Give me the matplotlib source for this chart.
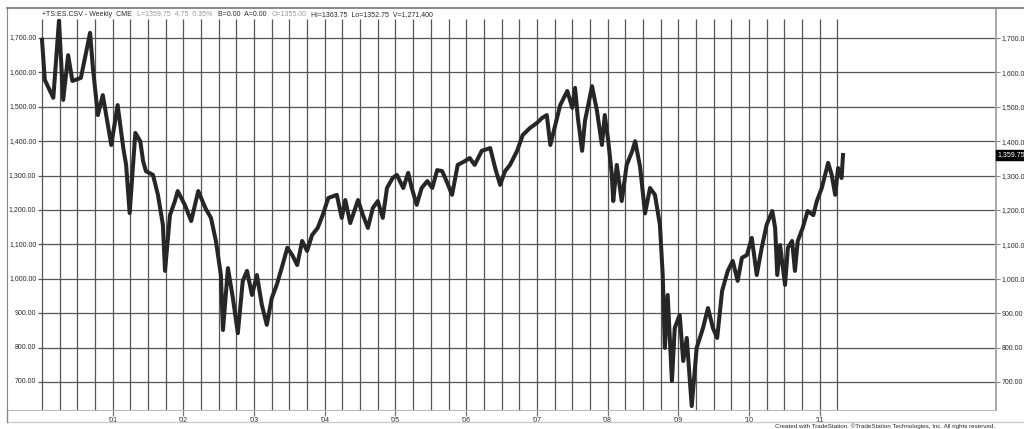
import matplotlib
matplotlib.use("Agg")
import matplotlib.pyplot as plt
from matplotlib.lines import Line2D

plt.rcParams['font.family'] = ['Liberation Sans', 'DejaVu Sans']

_W, _H = 1024, 429
_GRID = '#555555'
_BAR = '#262626'
_TEXT = '#2a2a2a'
_LABEL_SIZE = 5

# weekly ES closes (decimal year, price)
weeks = [
    2000.00, 2000.04, 2000.16, 2000.24, 2000.30, 2000.37, 2000.43, 2000.55,
    2000.68, 2000.72, 2000.79, 2000.86, 2000.98, 2001.07, 2001.15, 2001.19,
    2001.24, 2001.32, 2001.39, 2001.43, 2001.47, 2001.57, 2001.64, 2001.71,
    2001.74, 2001.81, 2001.88, 2001.92, 2002.02, 2002.11, 2002.21, 2002.31,
    2002.39, 2002.46, 2002.53, 2002.56, 2002.63, 2002.70, 2002.77, 2002.84,
    2002.90, 2002.97, 2003.04, 2003.11, 2003.18, 2003.25, 2003.32, 2003.39,
    2003.47, 2003.54, 2003.61, 2003.68, 2003.75, 2003.82, 2003.90, 2003.97,
    2004.05, 2004.17, 2004.24, 2004.29, 2004.36, 2004.47, 2004.54, 2004.61,
    2004.68, 2004.75, 2004.82, 2004.88, 2004.96, 2005.02, 2005.11, 2005.18,
    2005.23, 2005.30, 2005.37, 2005.45, 2005.52, 2005.59, 2005.66, 2005.73,
    2005.80, 2005.88, 2005.98, 2006.05, 2006.12, 2006.22, 2006.34, 2006.41,
    2006.48, 2006.55, 2006.62, 2006.72, 2006.80, 2006.90, 2007.00, 2007.07,
    2007.14, 2007.19, 2007.26, 2007.33, 2007.43, 2007.50, 2007.54, 2007.58,
    2007.64, 2007.68, 2007.78, 2007.85, 2007.92, 2007.96, 2008.01, 2008.06,
    2008.08, 2008.13, 2008.20, 2008.27, 2008.35, 2008.39, 2008.46, 2008.53,
    2008.60, 2008.67, 2008.74, 2008.78, 2008.81, 2008.85, 2008.91, 2008.95,
    2009.02, 2009.07, 2009.12, 2009.19, 2009.26, 2009.35, 2009.42, 2009.49,
    2009.55, 2009.62, 2009.70, 2009.77, 2009.84, 2009.90, 2009.97, 2010.04,
    2010.11, 2010.18, 2010.25, 2010.33, 2010.37, 2010.40, 2010.44, 2010.51,
    2010.55, 2010.61, 2010.65, 2010.69, 2010.76, 2010.83, 2010.91, 2010.96,
    2011.03, 2011.12, 2011.17, 2011.22, 2011.26, 2011.31, 2011.33,
]
closes = [
    1695, 1578, 1526, 1750, 1520, 1650, 1575, 1584,
    1715, 1613, 1476, 1534, 1389, 1505, 1380, 1331,
    1191, 1424, 1400, 1342, 1313, 1302, 1244, 1157,
    1023, 1185, 1226, 1255, 1215, 1168, 1255, 1206,
    1177, 1110, 1011, 851, 1031, 944, 842, 994,
    1023, 953, 1011, 924, 866, 944, 982, 1031,
    1090, 1069, 1040, 1110, 1081, 1127, 1148, 1185,
    1235, 1244, 1177, 1229, 1162, 1229, 1185, 1148,
    1206, 1226, 1177, 1264, 1293, 1302, 1264, 1308,
    1264, 1215, 1264, 1284, 1264, 1316, 1313, 1280,
    1244, 1331, 1342, 1351, 1331, 1372, 1380, 1322,
    1273, 1313, 1331, 1372, 1418, 1438, 1453, 1467,
    1476, 1389, 1447, 1505, 1546, 1497, 1555, 1467,
    1372, 1459, 1560, 1488, 1389, 1476, 1400, 1302,
    1226, 1331, 1226, 1331, 1372, 1400, 1325, 1190,
    1264, 1244, 1157, 1011, 799, 953, 703, 857,
    895, 761, 828, 630, 799, 857, 915, 857,
    828, 965, 1023, 1052, 994, 1061, 1069, 1119,
    1011, 1090, 1157, 1197, 1148, 1011, 1098, 982,
    1090, 1110, 1023, 1110, 1148, 1197, 1185, 1226,
    1264, 1337, 1302, 1244, 1322, 1293, 1360,
]

price_levels = [700, 800, 900, 1000, 1100, 1200, 1300, 1400, 1500, 1600, 1700]
year_ticks = [2001, 2002, 2003, 2004, 2005, 2006, 2007, 2008, 2009, 2010, 2011]
year_labels = ["'01", "'02", "'03", "'04", "'05", "'06", "'07", "'08", "'09", "'10", "'11"]
quarter_lines = [2000 + q * 0.25 for q in range(46)]
last_price = 1359.75

header_parts = [
    (42, "+TS:ES.CSV - Weekly  CME", _TEXT),
    (137, "L=1359.75  4.75  0.35%", '#9a9a9a'),
    (218, "B=0.00  A=0.00", _TEXT),
    (272, "O=1355.00", '#9a9a9a'),
    (311, "Hi=1363.75  Lo=1352.75  V=1,271,400", _TEXT),
]
credit = "Created with TradeStation. \u00a9TradeStation Technologies, Inc. All rights reserved."

X0, X1 = 1999.505, 2013.494
Y0, Y1 = 618.6, 1787.2


def fx(px):
    return px / _W


def fy(py):
    return 1 - py / _H


fig = plt.figure(figsize=(10.24, 4.29), dpi=100, facecolor='white')
ax = fig.add_axes([fx(7), fy(410), 989 / _W, 402 / _H])
ax.set_xlim(X0, X1)
ax.set_ylim(Y0, Y1)

ax.hlines(price_levels, 1999.94, X1, color=_GRID, lw=0.9, zorder=1)
ax.vlines(quarter_lines, Y0, 1755, color=_GRID, lw=0.9, zorder=1)
ax.plot(weeks, closes, color=_BAR, lw=2.9, zorder=3)

for p in price_levels:
    ax.text(1999.92, p, f"{p:,.2f}", ha='right', va='center',
            fontsize=_LABEL_SIZE, color=_TEXT)

ax.yaxis.tick_right()
ax.set_yticks(price_levels)
ax.set_yticklabels([f"{p:,.2f}" for p in price_levels])
ax.tick_params(axis='y', length=3, width=0.8, colors='#888888',
               labelcolor=_TEXT, labelsize=_LABEL_SIZE, pad=1)

ax.set_xticks(year_ticks)
ax.set_xticklabels(year_labels)
ax.tick_params(axis='x', length=4, width=0.9, colors='#777777',
               labelcolor=_TEXT, labelsize=_LABEL_SIZE, pad=1)

ax.spines['left'].set_color('#888888')
ax.spines['right'].set_color('#999999')
ax.spines['right'].set_linewidth(1.2)
ax.spines['top'].set_color('#888888')
ax.spines['top'].set_linewidth(1.4)
ax.spines['bottom'].set_color('#bbbbbb')

ax.text(1.001, last_price, "1,359.75", transform=ax.get_yaxis_transform(),
        ha='left', va='center', fontsize=_LABEL_SIZE, color='white',
        bbox=dict(boxstyle='square,pad=0.2', fc='black', ec='black'),
        clip_on=False, zorder=5)

# frame pieces outside the axes
fig.add_artist(Line2D([fx(996), 1], [fy(8), fy(8)], color='#888888', lw=1.4))
fig.add_artist(Line2D([fx(7), 1], [fy(422), fy(422)], color='#cccccc', lw=1))
fig.add_artist(Line2D([fx(7), fx(7)], [fy(410), fy(422)], color='#888888', lw=1))

for xpos, txt, col in header_parts:
    fig.text(fx(xpos), fy(15), txt, fontsize=_LABEL_SIZE, color=col,
             ha='left', va='center')

fig.text(fx(775), fy(426.5), credit, fontsize=4.5, color=_TEXT,
         ha='left', va='center')

fig.savefig("out.png", dpi=100)
